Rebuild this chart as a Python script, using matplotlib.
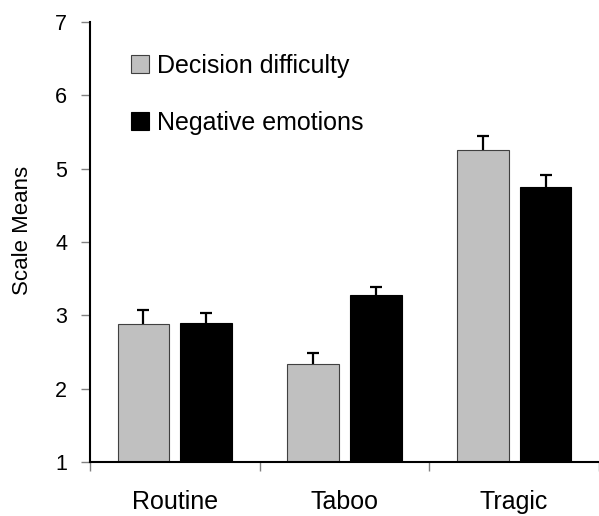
import matplotlib
matplotlib.use("Agg")
import matplotlib.pyplot as plt
from matplotlib.patches import Patch
import numpy as np

plt.rcParams['font.family'] = ['Liberation Sans', 'DejaVu Sans']

# data
categories = ["Routine", "Taboo", "Tragic"]
series_names = ["Decision difficulty", "Negative emotions"]
difficulty = [2.88, 2.33, 5.26]
difficulty_err = [0.19, 0.16, 0.18]
emotions = [2.90, 3.28, 4.75]
emotions_err = [0.13, 0.11, 0.16]
y_ticks = [1, 2, 3, 4, 5, 6, 7]

fig = plt.figure(figsize=(5.99, 5.16), dpi=100)
ax = fig.add_axes([90 / 599, 54 / 516, 509 / 599, 440 / 516])

x = np.arange(len(categories)) + 0.5
width = 0.305
offset = 0.185

ax.bar(x - offset, difficulty, width, color="#c0c0c0", edgecolor="#404040",
       linewidth=0.8, zorder=2)
ax.bar(x + offset, emotions, width, color="black", edgecolor="black",
       linewidth=0.8, zorder=2)

# upper whiskers only
for xs, vals, errs in [(x - offset, difficulty, difficulty_err),
                       (x + offset, emotions, emotions_err)]:
    eb = ax.errorbar(xs, vals, yerr=[np.zeros(len(errs)), errs], fmt="none",
                     ecolor="black", elinewidth=1.6, capsize=4, capthick=1.6, zorder=1)
    eb[1][0].set_visible(False)  # lower cap

ax.set_xlim(0, 3)
ax.set_ylim(1, 7)
ax.set_yticks(y_ticks)
ax.set_xticks(x)
ax.set_xticklabels(categories, fontsize=18)
ax.set_xticks(np.arange(len(categories) + 1), minor=True)
ax.tick_params(axis="x", which="major", length=0, pad=20)
ax.tick_params(axis="x", which="minor", length=6.5, width=1, color="#808080", direction="out")
ax.tick_params(axis="y", length=6.5, width=1, color="#808080", labelsize=15.5, pad=10)
ax.set_ylabel("Scale Means", fontsize=16)
ax.yaxis.set_label_coords(-0.112, 0.526)

for side in ["top", "right"]:
    ax.spines[side].set_visible(False)
for side in ["left", "bottom"]:
    ax.spines[side].set_linewidth(1.5)
    ax.spines[side].set_color("black")

handles = [Patch(facecolor="#c0c0c0", edgecolor="#404040", linewidth=0.8),
           Patch(facecolor="black", edgecolor="black", linewidth=0.8)]
ax.legend(handles, series_names, loc="upper left", bbox_to_anchor=(0.06, 0.95),
          frameon=False, fontsize=18, handlelength=0.72, handleheight=0.72,
          handletextpad=0.35, labelspacing=1.3, borderaxespad=0)

fig.savefig("out.png", dpi=100)
